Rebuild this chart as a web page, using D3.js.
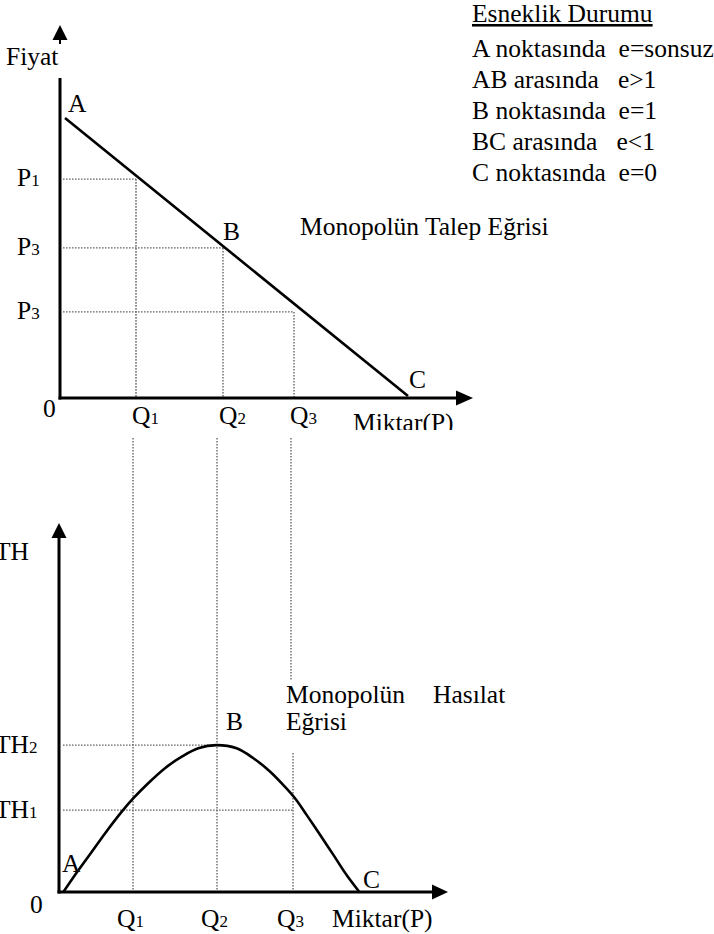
<!DOCTYPE html>
<html><head><meta charset="utf-8">
<script src="https://cdn.jsdelivr.net/npm/d3@7"></script>
<style>
html,body{margin:0;padding:0;background:#fff;}
svg{display:block;}
text{font-family:"Liberation Serif","Times New Roman",serif;font-size:25.5px;fill:#000;white-space:pre;}
</style></head><body>
<script>
// ---------- DATA ----------
// Demand (top) chart
const demandLine = [{q: 0.125, p: 8.75}, {q: 8.7, p: 0.06}];
const demandQ = [1.9, 4.075, 5.85];           // Q1, Q2, Q3 on demand chart
const demandP = [6.84, 4.69, 2.69];           // P1, P3, P3
const priceLabels = [["P", "1"], ["P", "3"], ["P", "3"]];
const qtyLabels = [["Q", "1"], ["Q", "2"], ["Q", "3"]];
const demandPointLabels = ["A", "B", "C"];
const demandPointQ = [0.125, 4.075, 8.7];
const demandPointP = [8.75, 4.69, 0.06];

// Revenue (bottom) chart
const revenueQ  = [0.11, 0.4, 0.73, 1.15, 1.57, 1.86, 2.23, 2.65, 3.07, 3.48, 3.94, 4.44, 4.86, 5.28, 5.61, 5.9, 6.19, 6.53, 6.86, 7.19, 7.51];
const revenueTH = [0, 0.53, 1.10, 1.83, 2.51, 2.93, 3.40, 3.87, 4.23, 4.49, 4.59, 4.49, 4.18, 3.76, 3.34, 2.93, 2.41, 1.78, 1.16, 0.53, 0];
const revenueQLevels = [1.85, 3.95, 5.85];    // Q1, Q2, Q3 on revenue chart
const thLevels = [4.59, 2.56];                // TH2, TH1
const thLabels = [["TH", "2"], ["TH", "1"]];
const revenuePointLabels = ["A", "B", "C"];
const revenuePointQ = [0.075, 3.95, 7.575];
const revenuePointTH = [0, 4.59, 0];

// Legend
const legendTitle = "Esneklik Durumu";
const legendRows = ["A noktasında  e=sonsuz", "AB arasında   e>1", "B noktasında  e=1", "BC arasında   e<1", "C noktasında  e=0"];

const axisNames = {price: "Fiyat", qty: "Miktar(P)", th: "TH", zero: "0"};
const curveTitles = {demand: "Monopolün Talep Eğrisi", revenue1: "Monopolün", revenue2: "Hasılat", revenue3: "Eğrisi"};

// ---------- DRAWING ----------
const W = 714, H = 934;
const svg = d3.select("body").append("svg").attr("width", W).attr("height", H);

const dotted = sel => sel.attr("stroke", "#666").attr("stroke-width", 1.4).attr("stroke-dasharray", "1.6,1.4").attr("fill", "none");

// Scales
const xTop = d3.scaleLinear().domain([0, 10]).range([60, 460]);
const yTop = d3.scaleLinear().domain([0, 10]).range([398, 78]);
const xBot = d3.scaleLinear().domain([0, 10]).range([59, 459]);
const yBot = d3.scaleLinear().domain([0, 10]).range([892, 572]);

function subText(g, x, y, main, sub, size) {
  const t = g.append("text").attr("x", x).attr("y", y);
  t.append("tspan").text(main);
  t.append("tspan").attr("font-size", size || 17).text(sub);
  return t;
}

// ===== Top chart =====
const gTop = svg.append("g");
demandQ.forEach((q, i) => {
  gTop.append("line").attr("x1", xTop(0) + 3).attr("x2", xTop(q))
    .attr("y1", yTop(demandP[i])).attr("y2", yTop(demandP[i])).call(dotted);
  gTop.append("line").attr("x1", xTop(q)).attr("x2", xTop(q))
    .attr("y1", yTop(demandP[i])).attr("y2", yTop(0)).call(dotted);
});
gTop.append("line").attr("x1", xTop(0)).attr("x2", xTop(0)).attr("y1", yTop(0) + 1.5).attr("y2", yTop(10))
  .attr("stroke", "#000").attr("stroke-width", 3);
gTop.append("line").attr("x1", xTop(0) - 1.5).attr("x2", xTop(10) - 2).attr("y1", yTop(0)).attr("y2", yTop(0))
  .attr("stroke", "#000").attr("stroke-width", 3);
gTop.append("path").attr("d", `M${xTop(10) - 4},${yTop(0) - 7.5} L${xTop(10) + 13},${yTop(0)} L${xTop(10) - 4},${yTop(0) + 7.5} Z`).attr("fill", "#000");
gTop.append("line").attr("x1", xTop(0)).attr("x2", xTop(0)).attr("y1", 38).attr("y2", 44).attr("stroke", "#000").attr("stroke-width", 2);
gTop.append("path").attr("d", `M${xTop(0) - 7.5},40 L${xTop(0)},25 L${xTop(0) + 7.5},40 Z`).attr("fill", "#000");

gTop.append("path").datum(demandLine)
  .attr("d", d3.line().x(d => xTop(d.q)).y(d => yTop(d.p)))
  .attr("stroke", "#000").attr("stroke-width", 2.6).attr("fill", "none");

gTop.append("text").attr("x", 6).attr("y", 65).text(axisNames.price);
priceLabels.forEach((l, i) => subText(gTop, 17, yTop(demandP[i]) + 7, l[0], l[1]));
qtyLabels.forEach((l, i) => subText(gTop, xTop(demandQ[i]) - 4, 424, l[0], l[1]));
gTop.append("text").attr("x", 43).attr("y", 417).text(axisNames.zero);
const clip = svg.append("defs").append("clipPath").attr("id", "clipTop");
clip.append("rect").attr("x", 0).attr("y", 0).attr("width", W).attr("height", 430);
gTop.append("text").attr("x", 353).attr("y", 431).attr("clip-path", "url(#clipTop)").text(axisNames.qty);
const topLabelOff = [[3, -6], [0, -8], [1, -8]];
demandPointLabels.forEach((l, i) => gTop.append("text")
  .attr("x", xTop(demandPointQ[i]) + topLabelOff[i][0]).attr("y", yTop(demandPointP[i]) + topLabelOff[i][1]).text(l));
gTop.append("text").attr("x", 300).attr("y", 235).text(curveTitles.demand);

// legend
const lg = svg.append("g");
lg.append("text").attr("x", 472).attr("y", 22).attr("text-decoration", "underline").text(legendTitle);
legendRows.forEach((r, i) => lg.append("text").attr("x", 472).attr("y", 57 + i * 31).text(r));

// ===== Bottom chart =====
const gBot = svg.append("g");
revenueQLevels.forEach((q, i) => {
  if (i < 2) {
    gBot.append("line").attr("x1", xBot(q)).attr("x2", xBot(q)).attr("y1", 438).attr("y2", yBot(0)).call(dotted);
  } else {
    gBot.append("line").attr("x1", xBot(q) - 2).attr("x2", xBot(q) - 2).attr("y1", 438).attr("y2", 680).call(dotted);
    gBot.append("line").attr("x1", xBot(q)).attr("x2", xBot(q)).attr("y1", 753).attr("y2", yBot(0)).call(dotted);
  }
});
gBot.append("line").attr("x1", xBot(0) + 4).attr("x2", xBot(revenueQLevels[1])).attr("y1", yBot(thLevels[0])).attr("y2", yBot(thLevels[0])).call(dotted);
gBot.append("line").attr("x1", xBot(0) + 4).attr("x2", xBot(revenueQLevels[2])).attr("y1", yBot(thLevels[1])).attr("y2", yBot(thLevels[1])).call(dotted);

gBot.append("line").attr("x1", xBot(0)).attr("x2", xBot(0)).attr("y1", yBot(0) + 1.5).attr("y2", 536)
  .attr("stroke", "#000").attr("stroke-width", 3);
gBot.append("path").attr("d", `M${xBot(0) - 7.5},538 L${xBot(0)},523 L${xBot(0) + 7.5},538 Z`).attr("fill", "#000");
gBot.append("line").attr("x1", xBot(0) - 1.5).attr("x2", 434).attr("y1", yBot(0)).attr("y2", yBot(0))
  .attr("stroke", "#000").attr("stroke-width", 3);
gBot.append("path").attr("d", `M432,${yBot(0) - 7.5} L448,${yBot(0)} L432,${yBot(0) + 7.5} Z`).attr("fill", "#000");

const revData = revenueQ.map((q, i) => ({q, th: revenueTH[i]}));
gBot.append("path").datum(revData)
  .attr("d", d3.line().curve(d3.curveCatmullRom.alpha(0.5)).x(d => xBot(d.q)).y(d => yBot(d.th)))
  .attr("stroke", "#000").attr("stroke-width", 2.6).attr("fill", "none");

gBot.append("text").attr("x", -5).attr("y", 560).text(axisNames.th);
thLabels.forEach((l, i) => subText(gBot, -5, yBot(thLevels[i]) + 8, l[0], l[1]));
gBot.append("text").attr("x", 30).attr("y", 913).text(axisNames.zero);
qtyLabels.forEach((l, i) => subText(gBot, xBot(revenueQLevels[i]) - 16, 927, l[0], l[1]));
gBot.append("text").attr("x", 332).attr("y", 927).text(axisNames.qty);
const botLabelOff = [[0, -20], [9, -15], [1, -4]];
revenuePointLabels.forEach((l, i) => gBot.append("text")
  .attr("x", xBot(revenuePointQ[i]) + botLabelOff[i][0]).attr("y", yBot(revenuePointTH[i]) + botLabelOff[i][1]).text(l));
gBot.append("text").attr("x", 286).attr("y", 703).text(curveTitles.revenue1);
gBot.append("text").attr("x", 433).attr("y", 703).text(curveTitles.revenue2);
gBot.append("text").attr("x", 286).attr("y", 730).text(curveTitles.revenue3);
</script>
</body></html>
